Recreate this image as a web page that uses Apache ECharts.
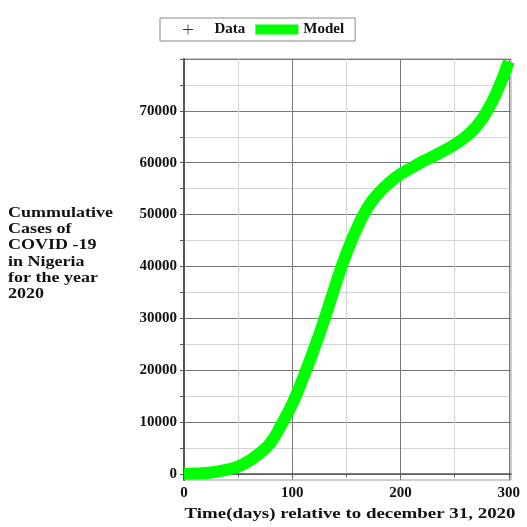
<!DOCTYPE html>
<html>
<head>
<meta charset="utf-8">
<script src="https://cdn.jsdelivr.net/npm/echarts@6/dist/echarts.min.js"></script>
<style>
  html, body { margin: 0; padding: 0; background: #fff; }
  #main { width: 527px; height: 527px; }
</style>
</head>
<body>
<div id="main"></div>
<script>
// model curve (days, cumulative cases)
var days = [0, 10, 20, 30, 40, 50, 60, 70, 80, 90, 100, 110, 120, 130, 140, 150,
  160, 170, 180, 190, 200, 210, 220, 230, 240, 250, 260, 270, 280, 290, 300];
var modelCases = [0, 50, 150, 400, 800, 1400, 2500, 4000, 6000, 9500, 13500, 18500,
  24000, 30000, 36500, 42500, 47500, 51500, 54200, 56200, 57800, 59000, 60200,
  61200, 62300, 63500, 65000, 67000, 70000, 74200, 79500];
// data points are hidden under the model line in the picture
var dataPoints = [];

var xTicks = [0, 50, 100, 150, 200, 250, 300];
var xLabels = [0, 100, 200, 300];
var yTicks = [0, 5000, 10000, 15000, 20000, 25000, 30000, 35000, 40000, 45000,
  50000, 55000, 60000, 65000, 70000, 75000, 80000];
var yLabels = [0, 10000, 20000, 30000, 40000, 50000, 60000, 70000];

var yTitle = 'Cummulative\nCases of\nCOVID -19\nin Nigeria\nfor the year\n2020';
var xTitle = 'Time(days) relative to december 31, 2020';

var serif = '"Liberation Serif", "DejaVu Serif", serif';

var myChart = echarts.init(document.getElementById('main'));
var modelData = days.map(function (d, i) { return [d, modelCases[i]]; });

var option = {
  animation: false,
  backgroundColor: '#fff',
  legend: {
    left: 160,
    top: 18,
    padding: [4, 11, 4, 23],
    itemGap: 10,
    itemWidth: 43,
    itemHeight: 10,
    borderColor: '#888',
    borderWidth: 1,
    textStyle: { fontFamily: serif, fontWeight: 'bold', fontSize: 15, color: '#111' },
    data: [
      { name: 'Data', icon: 'path://M4.6,0h0.8v4.6h4.6v0.8h-4.6v4.6h-0.8v-4.6h-4.6v-0.8h4.6z' },
      { name: 'Model', icon: 'rect' }
    ]
  },
  grid: {
    left: 184,
    right: 16,
    top: 59,
    bottom: 47,
    show: true,
    borderColor: '#999',
    borderWidth: 1
  },
  xAxis: {
    type: 'value',
    min: 0,
    max: 302,
    axisLine: { lineStyle: { color: '#555', width: 1.5 } },
    axisTick: { customValues: xTicks, length: 3, lineStyle: { color: '#555' } },
    axisLabel: {
      customValues: xLabels,
      margin: 6,
      formatter: function (v) { return String(v); },
      fontFamily: serif, fontWeight: 'bold', fontSize: 15, color: '#111'
    },
    splitLine: { show: true, lineStyle: { color: ['#777', '#d4d4d4'], width: 1 } }
  },
  yAxis: {
    type: 'value',
    min: -1200,
    max: 80000,
    axisLine: { show: true, lineStyle: { color: '#555', width: 2 } },
    axisTick: { show: true, customValues: yTicks, length: 4, lineStyle: { color: '#555' } },
    axisLabel: {
      customValues: yLabels,
      margin: 7,
      formatter: function (v) { return String(v); },
      fontFamily: serif, fontWeight: 'bold', fontSize: 15, color: '#111'
    },
    splitLine: { show: true, lineStyle: { color: ['#777', '#d4d4d4'], width: 1 } }
  },
  series: [
    {
      name: 'Data',
      type: 'scatter',
      data: dataPoints,
      symbol: 'path://M4.6,0h0.8v4.6h4.6v0.8h-4.6v4.6h-0.8v-4.6h-4.6v-0.8h4.6z',
      symbolSize: 6,
      itemStyle: { color: '#000' },
      z: 1
    },
    {
      name: 'Model',
      type: 'line',
      data: modelData,
      smooth: true,
      symbol: 'none',
      clip: false,
      itemStyle: { color: '#00ff00' },
      lineStyle: { color: '#00ff00', width: 12 },
      z: 3
    }
  ],
  graphic: [
    {
      type: 'text',
      x: 8,
      y: 205,
      scaleX: 1.2,
      style: {
        text: yTitle,
        fontFamily: serif, fontWeight: 'bold', fontSize: 15,
        lineHeight: 16.2,
        fill: '#111',
        align: 'left',
        verticalAlign: 'top'
      }
    },
    {
      type: 'text',
      x: 350,
      y: 514,
      scaleX: 1.26,
      style: {
        text: xTitle,
        fontFamily: serif, fontWeight: 'bold', fontSize: 15,
        fill: '#111',
        align: 'center',
        verticalAlign: 'middle'
      }
    }
  ]
};
myChart.setOption(option);
</script>
</body>
</html>
